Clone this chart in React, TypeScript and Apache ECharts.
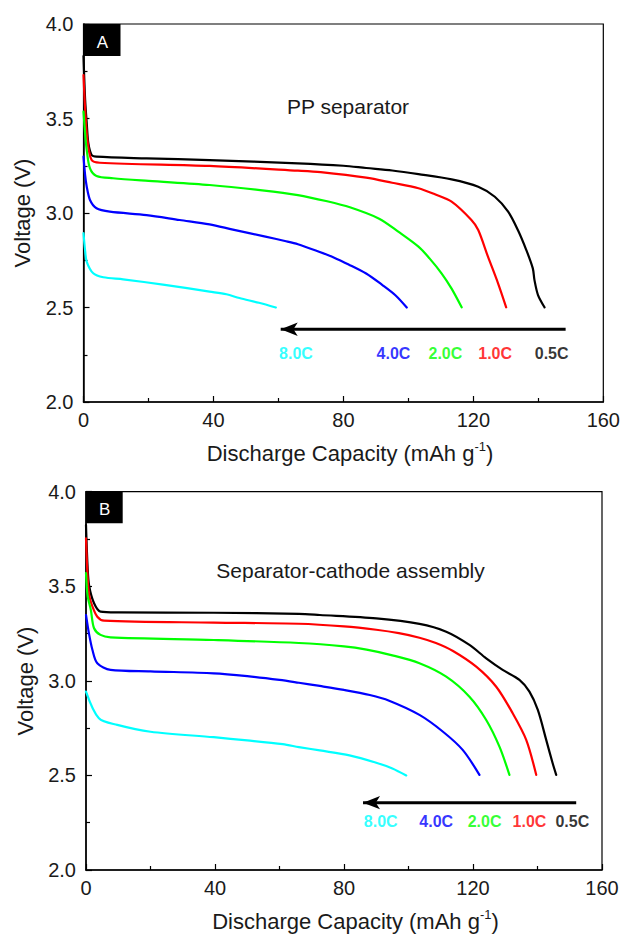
import React, { useEffect, useRef } from "react";
import * as echarts from "echarts";

// ---- data (panel A: PP separator) ----
const rateNames = ["0.5C", "1.0C", "2.0C", "4.0C", "8.0C"];
const rateColors = ["#000000", "#ff0000", "#00ff00", "#0000ff", "#00ffff"];

const ppC05 = [[0,3.83],[0.5,3.6],[1,3.475],[1.5,3.369],[2.5,3.307],[4,3.298],[19.4,3.289],[38.8,3.28],[66,3.263],[80,3.25],[87,3.238],[95,3.225],[103.1,3.206],[113.3,3.178],[121.5,3.139],[126.6,3.086],[130.7,3.007],[133.7,2.91],[136.3,2.804],[138.3,2.707],[138.8,2.646],[139.9,2.566],[141.9,2.501]];
const ppC10 = [[0,3.73],[0.5,3.55],[1.2,3.386],[2.5,3.28],[5,3.266],[38.8,3.249],[66,3.224],[73,3.216],[87,3.187],[95,3.16],[103.1,3.131],[108,3.1],[113.3,3.06],[119.4,2.963],[121.5,2.91],[124.5,2.769],[127.6,2.628],[130.1,2.501]];
const ppC20 = [[0,3.536],[0.5,3.42],[1,3.333],[2,3.236],[4,3.196],[9.1,3.184],[20,3.17],[38.8,3.148],[55,3.12],[66,3.095],[75,3.062],[82,3.03],[91,2.97],[97,2.9],[103.1,2.822],[106.5,2.76],[110.2,2.681],[113.3,2.6],[116.4,2.501]];
const ppC40 = [[0,3.298],[0.5,3.2],[1,3.139],[2,3.069],[4,3.025],[8.1,3.007],[19.4,2.989],[29.6,2.963],[38.8,2.94],[46,2.912],[56,2.875],[62,2.852],[66,2.835],[72.5,2.795],[77,2.765],[81.6,2.728],[87,2.68],[92,2.619],[96,2.565],[99.5,2.5]];
const ppC80 = [[0,2.893],[0.5,2.8],[1,2.742],[3,2.681],[6.1,2.66],[12.2,2.649],[25,2.62],[38.8,2.584],[44,2.57],[48,2.55],[54,2.525],[59.2,2.5]];
const ppLabelX = [144.1, 126.7, 111.4, 95.4, 65.4];
const ppLabelV = 2.259;
const ppArrow = [[60.7, 2.385], [148.4, 2.385]];

// ---- data (panel B: Separator-cathode assembly) ----
const scaC05 = [[0,3.824],[0.5,3.6],[1,3.5],[2.5,3.41],[4.5,3.366],[10,3.362],[39.6,3.36],[66,3.354],[72.5,3.348],[90,3.33],[103.4,3.301],[111.7,3.26],[118.9,3.19],[124.1,3.119],[129.2,3.058],[134.4,3.005],[137.5,2.943],[140.1,2.846],[142.7,2.688],[144.7,2.564],[145.8,2.503]];
const scaC10 = [[0,3.754],[0.5,3.55],[1,3.45],[2,3.392],[3.5,3.339],[5.6,3.318],[39.6,3.308],[66,3.302],[80,3.288],[90,3.27],[97,3.252],[103.4,3.228],[108.5,3.2],[113.8,3.158],[121,3.075],[127.2,2.969],[132.3,2.829],[136.5,2.688],[139.6,2.503]];
const scaC20 = [[0,3.569],[0.5,3.45],[1.5,3.375],[2.5,3.278],[4.5,3.243],[7.6,3.23],[39.6,3.216],[66,3.2],[80,3.182],[87,3.165],[95,3.135],[103.4,3.093],[111.7,3.022],[118.9,2.916],[124.1,2.793],[128.2,2.652],[131.3,2.503]];
const scaC40 = [[0,3.348],[0.9,3.252],[2,3.163],[3.5,3.093],[7.6,3.058],[20,3.05],[39.6,3.04],[50,3.025],[60,3.005],[66,2.99],[72.5,2.973],[80,2.952],[88,2.925],[94,2.895],[103.4,2.82],[110.7,2.731],[116.8,2.635],[122,2.503]];
const scaC80 = [[0,2.943],[4,2.802],[9.7,2.767],[20,2.731],[39.6,2.702],[50,2.685],[61,2.665],[66,2.65],[72.5,2.632],[81.7,2.606],[90,2.567],[95,2.537],[99.3,2.5]];
const scaLabelX = [150.8, 137.5, 123.6, 108.6, 91.4];
const scaLabelV = 2.256;
const scaArrow = [[85.9, 2.356], [152.0, 2.356]];

// ---- axes ----
const xMin = 0, xMax = 160, xStep = 40;
const yMin = 2, yMax = 4, yStep = 0.5;

const panelTitles = ["PP separator", "Separator-cathode assembly"];
const panelLetters = ["A", "B"];
const yAxisName = "Voltage (V)";
const xAxisNameRich = "Discharge Capacity (mAh g{sup|-1})";

const FONT = "Liberation Sans, Arial, sans-serif";

export default function App() {
  const ref = useRef<HTMLDivElement>(null);
  useEffect(() => {
    if (!ref.current) return;
    const chart = echarts.init(ref.current, undefined, { renderer: "svg" });

    const grids = [
      { left: 83.5, top: 24, width: 522, height: 378 },
      { left: 86, top: 491.7, width: 516, height: 378.3 },
    ];

    const mkX = (gi: number) => ({
      type: "value", gridIndex: gi, min: xMin, max: xMax, interval: xStep,
      axisLine: { show: true, onZero: false, lineStyle: { color: "#000", width: 1.5 } },
      axisTick: { show: true, inside: true, length: 6, lineStyle: { color: "#000", width: 1.2 } },
      minorTick: { show: true, splitNumber: 2, length: 4, lineStyle: { color: "#000", width: 1.2 } },
      axisLabel: { color: "#1a1a1a", fontSize: 20, fontFamily: FONT, margin: 8 },
      splitLine: { show: false },
    });
    const mkY = (gi: number) => ({
      type: "value", gridIndex: gi, min: yMin, max: yMax, interval: yStep,
      axisLine: { show: true, onZero: false, lineStyle: { color: "#000", width: 1.5 } },
      axisTick: { show: true, inside: true, length: 6, lineStyle: { color: "#000", width: 1.2 } },
      minorTick: { show: true, splitNumber: 2, length: 4, lineStyle: { color: "#000", width: 1.2 } },
      axisLabel: { color: "#1a1a1a", fontSize: 20, fontFamily: FONT, margin: 10, formatter: (v: number) => v.toFixed(1) },
      splitLine: { show: false },
    });

    const panelCurves = [
      [ppC05, ppC10, ppC20, ppC40, ppC80],
      [scaC05, scaC10, scaC20, scaC40, scaC80],
    ];
    const labelXs = [ppLabelX, scaLabelX];
    const labelVs = [ppLabelV, scaLabelV];
    const arrows = [ppArrow, scaArrow];

    const series: any[] = [];
    panelCurves.forEach((curves, p) => {
      curves.forEach((d, i) => {
        series.push({
          type: "line", name: `${panelLetters[p]} ${rateNames[i]}`,
          xAxisIndex: p, yAxisIndex: p, data: d,
          showSymbol: false, symbol: "none",
          smooth: 0.3,
          lineStyle: { color: rateColors[i], width: 2.2, join: "round", cap: "round" },
          silent: true, z: 3,
        });
      });
      series.push({
        type: "line", xAxisIndex: p, yAxisIndex: p,
        data: [
          { value: arrows[p][0], symbol: "arrow", symbolSize: [10, 17], symbolRotate: 90, itemStyle: { color: "#000" } },
          { value: arrows[p][1], symbol: "none" },
        ],
        showSymbol: true, symbol: "none",
        lineStyle: { color: "#000", width: 3 },
        itemStyle: { color: "#000" },
        silent: true, z: 4,
      });
      series.push({
        type: "scatter", xAxisIndex: p, yAxisIndex: p,
        symbolSize: 0.1, itemStyle: { color: "transparent" },
        data: rateNames.map((n, i) => ({
          value: [labelXs[p][i], labelVs[p]], name: n,
          label: { color: rateColors[i] },
        })),
        label: {
          show: true, position: "inside", formatter: "{b}",
          fontSize: 16, fontWeight: "bold", fontFamily: FONT,
        },
        silent: true, z: 5,
      });
    });

    const graphic: any[] = [
      { type: "rect", shape: { x: 83.5, y: 24, width: 37, height: 32 }, style: { fill: "#000" } },
      { type: "text", x: 102.5, y: 42, style: { text: panelLetters[0], fill: "#fff", fontSize: 17, fontFamily: FONT, align: "center", verticalAlign: "middle" } },
      { type: "rect", shape: { x: 86, y: 491.7, width: 36.7, height: 31.6 }, style: { fill: "#000" } },
      { type: "text", x: 104.7, y: 509.2, style: { text: panelLetters[1], fill: "#fff", fontSize: 17, fontFamily: FONT, align: "center", verticalAlign: "middle" } },
      { type: "text", x: 348, y: 106.7, style: { text: panelTitles[0], fill: "#1a1a1a", fontSize: 21, fontFamily: FONT, align: "center", verticalAlign: "middle" } },
      { type: "text", x: 350.5, y: 570.5, style: { text: panelTitles[1], fill: "#1a1a1a", fontSize: 21, fontFamily: FONT, align: "center", verticalAlign: "middle" } },
      { type: "text", x: 22.5, y: 213, rotation: Math.PI / 2, style: { text: yAxisName, fill: "#1a1a1a", fontSize: 22, fontFamily: FONT, align: "center", verticalAlign: "middle" } },
      { type: "text", x: 25, y: 681, rotation: Math.PI / 2, style: { text: yAxisName, fill: "#1a1a1a", fontSize: 22, fontFamily: FONT, align: "center", verticalAlign: "middle" } },
      { type: "text", x: 350, y: 453, style: { text: xAxisNameRich, fill: "#1a1a1a", fontSize: 22, fontFamily: FONT, align: "center", verticalAlign: "middle", lineHeight: 26, rich: { sup: { fontSize: 13, fontFamily: FONT, fill: "#1a1a1a", verticalAlign: "top", lineHeight: 13 } } } },
      { type: "text", x: 355.5, y: 921, style: { text: xAxisNameRich, fill: "#1a1a1a", fontSize: 22, fontFamily: FONT, align: "center", verticalAlign: "middle", lineHeight: 26, rich: { sup: { fontSize: 13, fontFamily: FONT, fill: "#1a1a1a", verticalAlign: "top", lineHeight: 13 } } } },
    ];

    chart.setOption({
      animation: false,
      backgroundColor: "#ffffff",
      textStyle: { fontFamily: FONT },
      grid: grids.map((g) => ({ ...g, show: true, borderColor: "#000", borderWidth: 1.2, backgroundColor: "transparent" })),
      xAxis: [mkX(0), mkX(1)],
      yAxis: [mkY(0), mkY(1)],
      series,
      graphic,
    });
    return () => chart.dispose();
  }, []);
  return <div ref={ref} style={{ position: "absolute", left: 0, top: 0, width: 623, height: 935 }} />;
}
